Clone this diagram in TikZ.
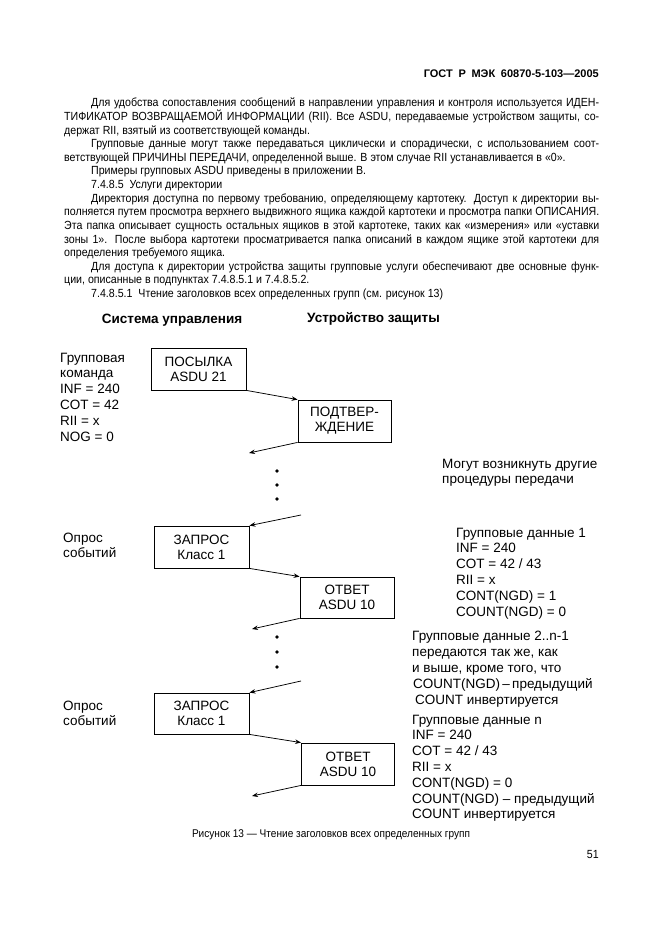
\documentclass[tikz,border=0pt]{standalone}
\usepackage{fontspec}
\setmainfont{Liberation Sans}
\newfontfamily\narrowfont[FakeStretch=0.9]{Liberation Sans}
\usetikzlibrary{arrows.meta}
\newcommand{\jl}[2]{\makebox[#1pt][s]{#2}}
\begin{document}
\begin{tikzpicture}[x=1pt,y=-1pt,
  body/.style={anchor=base west,inner sep=0pt,font=\narrowfont\fontsize{11.8}{13.6}\selectfont},
  head/.style={anchor=base east,inner sep=0pt,font=\bfseries\fontsize{11}{13}\selectfont},
  title/.style={anchor=base,inner sep=0pt,font=\bfseries\fontsize{13.5}{16}\selectfont},
  lbl/.style={anchor=base west,inner sep=0pt,align=left,font=\fontsize{13.5}{15.8}\selectfont},
  box/.style={draw,line width=0.8pt,inner sep=0pt,align=center,font=\fontsize{13.5}{14.8}\selectfont},
  arr/.style={-{Stealth[length=6pt,width=4.5pt]},line width=0.75pt},
  dotn/.style={circle,fill,inner sep=0pt,minimum size=3.6pt}
]
\useasboundingbox (0,0) rectangle (661,936);
\fill[white] (0,0) rectangle (661,936);

% header
\node[head] (hdr) at (599,78) {\makebox[175pt][s]{ГОСТ Р МЭК 60870-5-103—2005}};

% body text
\node[body] (l1) at (91,107.0) {\jl{508}{Для удобства сопоставления сообщений в направлении управления и контроля используется ИДЕН-}};
\node[body] (l2) at (64,120.6) {\jl{535}{ТИФИКАТОР ВОЗВРАЩАЕМОЙ ИНФОРМАЦИИ (RII). Все ASDU, передаваемые устройством защиты, со-}};
\node[body] (l3) at (64,134.2) {держат RII, взятый из соответствующей команды.};
\node[body] (l4) at (91,147.8) {\jl{508}{Групповые данные могут также передаваться циклически и спорадически, с использованием соот-}};
\node[body] (l5) at (64,161.4) {ветствующей ПРИЧИНЫ ПЕРЕДАЧИ, определенной выше. В этом случае RII устанавливается в «0».};
\node[body] (l6) at (91,175.0) {Примеры групповых ASDU приведены в приложении В.};
\node[body] (l7) at (91,188.6) {7.4.8.5\ \ Услуги директории};
\node[body] (l8) at (91,202.2) {\jl{508}{Директория доступна по первому требованию, определяющему картотеку. Доступ к директории вы-}};
\node[body] (l9) at (64,215.8) {\jl{535}{полняется путем просмотра верхнего выдвижного ящика каждой картотеки и просмотра папки ОПИСАНИЯ.}};
\node[body] (l10) at (64,229.4) {\jl{535}{Эта папка описывает сущность остальных ящиков в этой картотеке, таких как «измерения» или «уставки}};
\node[body] (l11) at (64,243.0) {\jl{535}{зоны 1». После выбора картотеки просматривается папка описаний в каждом ящике этой картотеки для}};
\node[body] (l12) at (64,256.6) {определения требуемого ящика.};
\node[body] (l13) at (91,270.2) {\jl{508}{Для доступа к директории устройства защиты групповые услуги обеспечивают две основные функ-}};
\node[body] (l14) at (64,283.8) {ции, описанные в подпунктах 7.4.8.5.1 и 7.4.8.5.2.};
\node[body] (l15) at (91,297.4) {7.4.8.5.1\ \ Чтение заголовков всех определенных групп (см. рисунок 13)};

% figure titles
\node[title] (t1) at (172,323) {Система управления};
\node[title] (t2) at (373.5,322) {Устройство защиты};

% left labels (anchor = baseline of the last line)
\node[lbl] (cmd) at (60,441) {Групповая\\команда\\INF = 240\\COT = 42\\RII = x\\NOG = 0};
\node[lbl] (poll1) at (63,557.8) {Опрос\\событий};
\node[lbl] (poll2) at (63,725.8) {Опрос\\событий};

% boxes
\node[box,minimum width=95pt,minimum height=42pt] (b1) at (198.5,369) {ПОСЫЛКА\\ASDU 21};
\node[box,minimum width=93pt,minimum height=42pt] (b2) at (344.5,421) {ПОДТВЕР-\\ЖДЕНИЕ};
\node[box,minimum width=95pt,minimum height=42pt] (b3) at (201.5,547) {ЗАПРОС\\Класс 1};
\node[box,minimum width=94pt,minimum height=41pt] (b4) at (347,597.5) {ОТВЕТ\\ASDU 10};
\node[box,minimum width=95pt,minimum height=41pt] (b5) at (201.5,713.5) {ЗАПРОС\\Класс 1};
\node[box,minimum width=93pt,minimum height=42pt] (b6) at (348,764) {ОТВЕТ\\ASDU 10};

% free ends
\coordinate (e2) at (249,453);
\coordinate (s3) at (301,515);
\coordinate (e5) at (252,629);
\coordinate (s6) at (301,681);
\coordinate (e8) at (252,796);

% arrows
\draw[arr] (b1.south east) -- (b2.north west);
\draw[arr] (b2.south west) -- (e2);
\draw[arr] (s3) -- (b3.north east);
\draw[arr] (b3.south east) -- (b4.north west);
\draw[arr] (b4.south west) -- (e5);
\draw[arr] (s6) -- (b5.north east);
\draw[arr] (b5.south east) -- (b6.north west);
\draw[arr] (b6.south west) -- (e8);

% dots
\node[dotn] (d1) at (277,471) {};
\node[dotn] (d2) at (277,485) {};
\node[dotn] (d3) at (277,499) {};
\node[dotn] (d4) at (277,637) {};
\node[dotn] (d5) at (277,652) {};
\node[dotn] (d6) at (277,667) {};

% right texts (anchor = baseline of the last line)
\node[lbl] (other) at (442,483.8) {Могут возникнуть другие\\процедуры передачи};
\node[lbl] (gd1) at (456,616) {Групповые данные 1\\INF = 240\\COT = 42 / 43\\RII = x\\CONT(NGD) = 1\\COUNT(NGD) = 0};
\node[lbl,font=\fontsize{13.5}{16.2}\selectfont] (gd2) at (412,704.8) {Групповые данные 2..n-1\\передаются так же, как\\и выше, кроме того, что\\\hspace*{1pt}COUNT(NGD)\,–\,предыдущий\\\hspace*{3pt}COUNT инвертируется};
\node[lbl] (gdn) at (412,818.8) {Групповые данные n\\INF = 240\\COT = 42 / 43\\RII = x\\CONT(NGD) = 0\\COUNT(NGD) – предыдущий\\COUNT инвертируется};

% caption and page number
\node[body,anchor=base,font=\narrowfont\fontsize{11.2}{13}\selectfont] (cap) at (331,837) {Рисунок 13 — Чтение заголовков всех определенных групп};
\node[body,anchor=base east] (pg) at (599,858) {51};
\end{tikzpicture}
\end{document}
